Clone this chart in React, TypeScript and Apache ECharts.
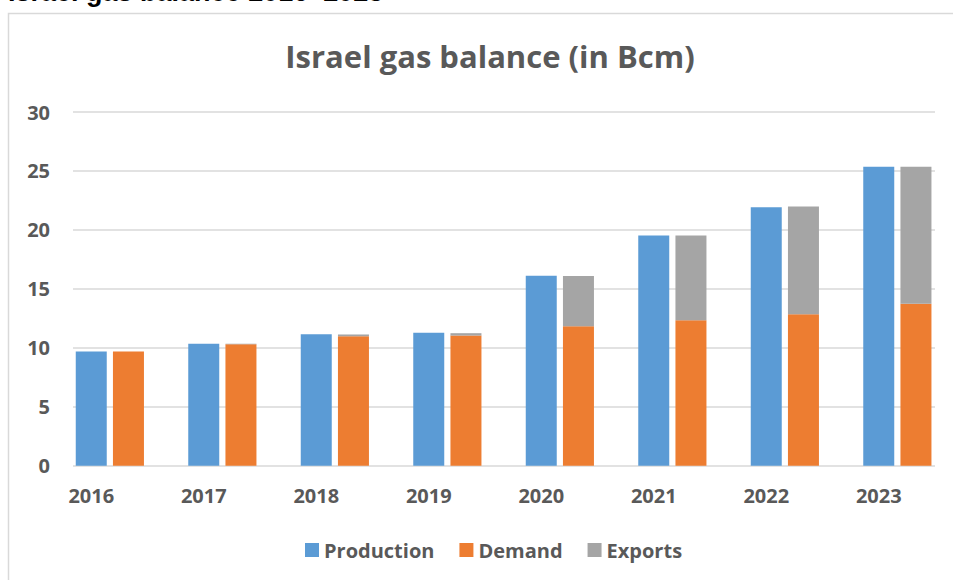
import React, { useEffect, useRef } from "react";
import * as echarts from "echarts";

const years = ["2016", "2017", "2018", "2019", "2020", "2021", "2022", "2023"];
const production = [9.68, 10.35, 11.15, 11.27, 16.12, 19.52, 21.93, 25.36];
const demand = [9.68, 10.3, 10.98, 11.04, 11.83, 12.34, 12.85, 13.74];
const exportsVals = [0, 0.05, 0.15, 0.2, 4.25, 7.18, 9.14, 11.62];
const yTicks = { min: 0, max: 30, interval: 5 };

const FONT = "'Open Sans', 'Noto Sans', sans-serif";
const GRAY_TEXT = "#595959";

export default function App() {
  const ref = useRef<HTMLDivElement>(null);
  useEffect(() => {
    if (!ref.current) return;
    const chart = echarts.init(ref.current, undefined, { renderer: "svg" });
    chart.setOption({
      animation: false,
      backgroundColor: "#ffffff",
      title: {
        text: "Israel gas balance (in Bcm)",
        left: 485,
        top: 35,
        textAlign: "center",
        textStyle: { fontFamily: FONT, fontWeight: "bold", fontSize: 31, color: GRAY_TEXT },
      },
      graphic: [
        {
          type: "rect",
          shape: { x: 8.5, y: 13.5, width: 1000, height: 700 },
          style: { fill: "none", stroke: "#D9D9D9", lineWidth: 1.5 },
          silent: true,
          z: -10,
        },
        {
          type: "text",
          x: 8,
          y: 5,
          style: {
            text: "Israel gas balance 2016–2023",
            font: "bold 27px 'Liberation Sans', Arial, sans-serif",
            fill: "#000000",
            verticalAlign: "bottom",
          },
          silent: true,
        },
      ],
      legend: {
        data: ["Production", "Demand", "Exports"],
        left: 300,
        top: 535,
        itemWidth: 14,
        itemHeight: 14,
        itemGap: 25,
        icon: "rect",
        textStyle: { fontFamily: FONT, fontWeight: "bold", fontSize: 20, color: GRAY_TEXT },
      },
      grid: [
        { left: 73, right: 18, top: 112, bottom: 114.3 },
        { left: 35, right: 18, top: 112, bottom: 114.3 },
      ],
      xAxis: [
        {
          gridIndex: 0,
          type: "category",
          data: years,
          axisLine: { show: false },
          axisTick: { show: false },
          axisLabel: { show: false },
        },
        {
          gridIndex: 1,
          type: "category",
          data: years,
          axisLine: { show: false },
          axisTick: { show: false },
          axisLabel: {
            margin: 20,
            fontFamily: FONT,
            fontWeight: "bold",
            fontSize: 20,
            color: GRAY_TEXT,
          },
        },
      ],
      yAxis: [
        {
          gridIndex: 0,
          type: "value",
          min: yTicks.min,
          max: yTicks.max,
          interval: yTicks.interval,
          axisLine: { show: false },
          axisTick: { show: false },
          splitLine: { lineStyle: { color: "#D9D9D9", width: 1.5 } },
          axisLabel: {
            margin: 23,
            fontFamily: FONT,
            fontWeight: "bold",
            fontSize: 20,
            color: GRAY_TEXT,
          },
        },
        {
          gridIndex: 1,
          type: "value",
          min: yTicks.min,
          max: yTicks.max,
          interval: yTicks.interval,
          show: false,
        },
      ],
      series: [
        {
          name: "_pad",
          type: "bar",
          xAxisIndex: 1,
          yAxisIndex: 1,
          stack: "pad",
          data: years.map(() => null),
          barWidth: 31,
          barGap: "20%",
          silent: true,
        },
        {
          name: "Production",
          type: "bar",
          xAxisIndex: 1,
          yAxisIndex: 1,
          stack: "prod",
          data: production,
          barWidth: 31,
          barGap: "20%",
          itemStyle: { color: "#5B9BD5" },
        },
        {
          name: "Demand",
          type: "bar",
          xAxisIndex: 1,
          yAxisIndex: 1,
          stack: "use",
          data: demand,
          barWidth: 31,
          barGap: "20%",
          itemStyle: { color: "#ED7D31" },
        },
        {
          name: "Exports",
          type: "bar",
          xAxisIndex: 1,
          yAxisIndex: 1,
          stack: "use",
          data: exportsVals,
          barWidth: 31,
          barGap: "20%",
          itemStyle: { color: "#A5A5A5" },
        },
      ],
    });
    return () => chart.dispose();
  }, []);
  return (
    <div
      ref={ref}
      style={{ position: "absolute", left: 0, top: 0, width: 953, height: 580 }}
    />
  );
}
